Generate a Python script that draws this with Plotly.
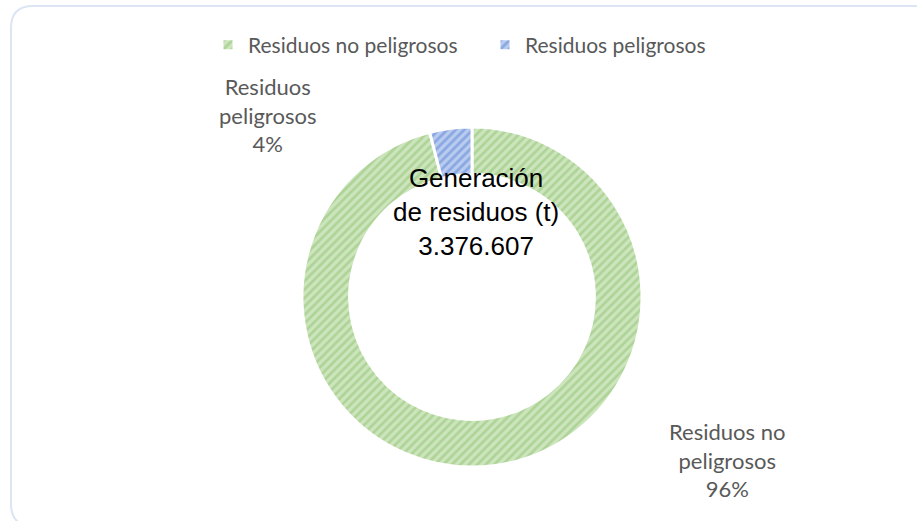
import plotly.graph_objects as go

labels = ["Residuos no peligrosos", "Residuos peligrosos"]
values = [3241607, 135000]
pct_labels = ["96%", "4%"]
total_label = "3.376.607"
center_title = "Generación<br>de residuos (t)"
fg_colors = ["#8fc272", "#5a83d4"]
bg_colors = ["#cde5bd", "#b9cbef"]

W, H = 917, 521

def px(x):
    return x / W

def py(y):
    return 1 - y / H

fig = go.Figure()
fig.add_trace(go.Pie(
    labels=labels,
    values=values,
    hole=0.72,
    sort=False,
    direction="clockwise",
    rotation=0,
    textinfo="none",
    hoverinfo="label+percent+value",
    marker=dict(
        colors=bg_colors,
        line=dict(color="white", width=3),
        pattern=dict(shape="/", fgcolor=fg_colors, bgcolor=bg_colors,
                     size=6, solidity=0.45, fillmode="overlay"),
    ),
    domain=dict(x=[px(302), px(642)], y=[py(467), py(127)]),
))

label_font = dict(family="Lato, Open Sans, sans-serif", size=22, color="#595959")
fig.add_annotation(x=px(267), y=py(115), xref="paper", yref="paper",
                   xanchor="center", yanchor="middle",
                   text="Residuos<br>peligrosos<br>" + pct_labels[1],
                   showarrow=False, font=label_font, align="center")
fig.add_annotation(x=px(727), y=py(460), xref="paper", yref="paper",
                   xanchor="center", yanchor="middle",
                   text="Residuos no<br>peligrosos<br>" + pct_labels[0],
                   showarrow=False, font=label_font, align="center")
fig.add_annotation(x=px(476), y=py(212), xref="paper", yref="paper",
                   xanchor="center", yanchor="middle",
                   text=center_title + "<br>" + total_label,
                   showarrow=False, align="center",
                   font=dict(family="Liberation Sans, Arial, sans-serif", size=26, color="#000000"))

# rounded border
x0, x1, y0, y1 = px(11), px(940), py(526), py(6)
rx, ry = 22 / W, 22 / H
path = (f"M {x0+rx},{y1} L {x1},{y1} L {x1},{y0} L {x0+rx},{y0} "
        f"Q {x0},{y0} {x0},{y0+ry} L {x0},{y1-ry} "
        f"Q {x0},{y1} {x0+rx},{y1} Z")
fig.add_shape(type="path", path=path, xref="paper", yref="paper",
              line=dict(color="#dce5f4", width=2), fillcolor="rgba(0,0,0,0)")

fig.update_layout(
    width=W, height=H,
    margin=dict(l=0, r=0, t=0, b=0),
    paper_bgcolor="white",
    showlegend=True,
    legend=dict(orientation="h", x=px(208), xanchor="left", y=py(45), yanchor="middle",
                font=dict(family="Lato, Open Sans, sans-serif", size=21, color="#595959"),
                itemwidth=30, entrywidth=232, entrywidthmode="pixels",
                traceorder="normal"),
)

fig.write_html("out.html", config={"displayModeBar": False},
               post_script="document.body.style.margin='0';")
